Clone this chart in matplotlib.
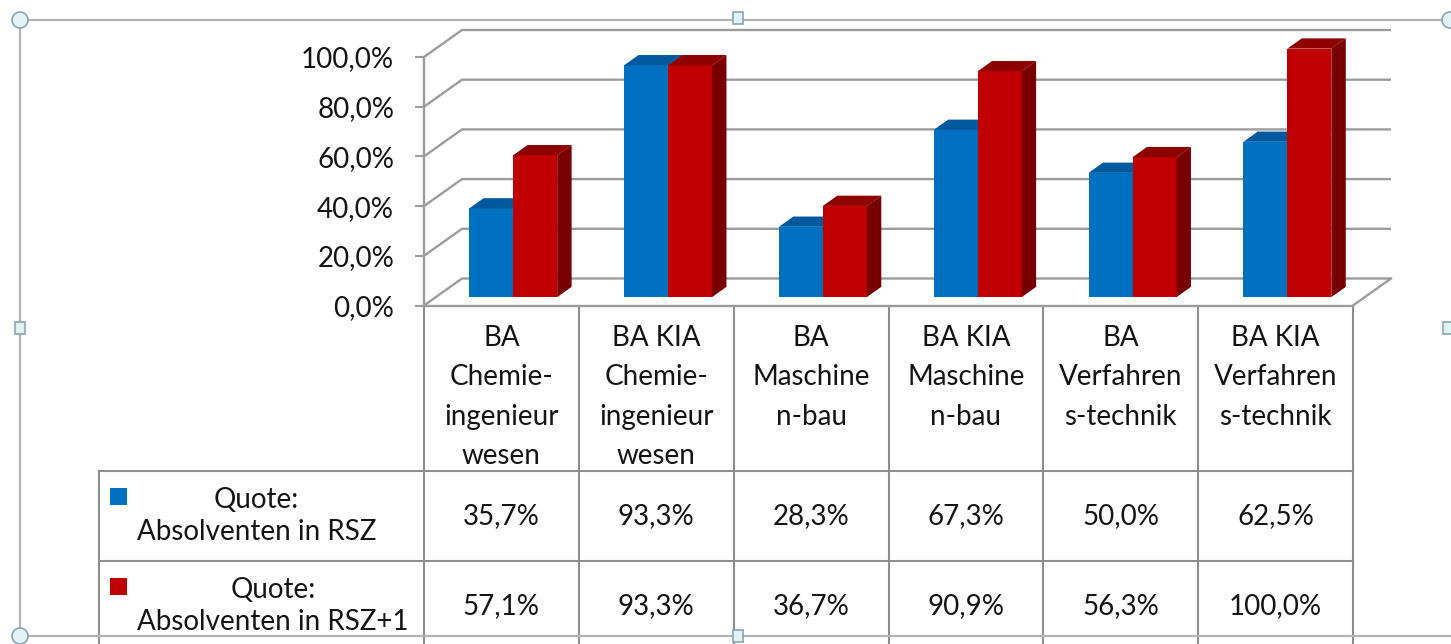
import matplotlib
matplotlib.use("Agg")
import matplotlib.pyplot as plt
from matplotlib.patches import Polygon, Rectangle, Circle
from matplotlib.ticker import FuncFormatter

# data
categories = [
    "BA\nChemie-\ningenieur\nwesen",
    "BA KIA\nChemie-\ningenieur\nwesen",
    "BA\nMaschine\nn-bau",
    "BA KIA\nMaschine\nn-bau",
    "BA\nVerfahren\ns-technik",
    "BA KIA\nVerfahren\ns-technik",
]
series_names = ["Quote:\nAbsolventen in RSZ", "Quote:\nAbsolventen in RSZ+1"]
quote_rsz = [35.7, 93.3, 28.3, 67.3, 50.0, 62.5]
quote_rsz1 = [57.1, 93.3, 36.7, 90.9, 56.3, 100.0]
y_ticks = [0, 20, 40, 60, 80, 100]

# styles
front_cols = ["#0070C0", "#C00000"]
top_cols = ["#00599C", "#8E0000"]
side_cols = ["#004C85", "#780000"]
grid_col = "#9c9c9c"
table_col = "#8e8e8e"
text_col = "#141414"
fs = 20

plt.rcParams['font.family'] = ['Lato', 'DejaVu Sans']

W, H = 1451, 644
fig = plt.figure(figsize=(W / 100, H / 100), dpi=100)
fig.patch.set_facecolor("white")

def fx(x):
    return x / W

def fy(y):
    return 1 - y / H

# layout overlay in pixel units (table, frame)
lay = fig.add_axes([0, 0, 1, 1])
lay.set_xlim(0, W)
lay.set_ylim(H, 0)
lay.axis("off")
lay.set_zorder(0)

# front plane of the 3d plot area
X0, X1, Y0, Y1 = 424, 1353, 305.5, 57
ax = fig.add_axes([fx(X0), fy(Y0), fx(X1) - fx(X0), fy(Y1) - fy(Y0)])
ax.set_zorder(1)
ax.patch.set_visible(False)
n = len(categories)
ax.set_xlim(0, n)
ax.set_ylim(0, 100)

# depth of the box (38 px right, 27 px up) in data units
dx = 38 / ((X1 - X0) / n)
dy = 27 / ((Y0 - Y1) / 100)

# back wall gridlines + side wall diagonals
for v in y_ticks:
    ax.plot([0, dx, n + dx], [v + 0, v + dy, v + dy], color=grid_col, lw=1.7,
            clip_on=False, zorder=1, solid_capstyle="butt")
ax.plot([n, n + dx], [0, dy], color=grid_col, lw=1.7, clip_on=False, zorder=1)

for s in ["top", "right"]:
    ax.spines[s].set_visible(False)
ax.spines["bottom"].set_color(grid_col)
ax.spines["bottom"].set_linewidth(1.7)
ax.spines["left"].set_color(grid_col)
ax.spines["left"].set_linewidth(1.7)
ax.spines["left"].set_bounds(0, 100)
ax.set_xticks([])
ax.set_yticks(y_ticks)
ax.yaxis.set_major_formatter(FuncFormatter(lambda v, p: f"{v:.1f}%".replace(".", ",")))
ax.tick_params(axis="y", direction="out", length=6.5, width=1.5, color=grid_col,
               labelcolor=text_col, labelsize=fs, pad=15)

# 3d bars
f0, f1 = 0.31, 0.69
bw = 0.284
for i in range(n):
    for j, vals in enumerate([quote_rsz, quote_rsz1]):
        v = vals[i]
        xl = i + 0.5 + f0 * dx + (j - 1) * bw
        xr = xl + bw
        b0, b1 = f0 * dy, f1 * dy
        ddx = (f1 - f0) * dx
        z = 3 + j * 0.5
        ax.bar(xl, v, width=bw, bottom=b0, align="edge", color=front_cols[j],
               lw=0, zorder=z, clip_on=False)
        ax.add_patch(Polygon([(xl, v + b0), (xr, v + b0), (xr + ddx, v + b1), (xl + ddx, v + b1)],
                             closed=True, fc=top_cols[j], lw=0, zorder=z, clip_on=False))
        ax.add_patch(Polygon([(xr, b0), (xr, v + b0), (xr + ddx, v + b1), (xr + ddx, b1)],
                             closed=True, fc=side_cols[j], lw=0, zorder=z, clip_on=False))

# data table
colw = (X1 - X0) / n
LEFT, HEAD_BOT, ROW1_BOT, ROW2_BOT = 99, 471, 561, 651
for k in range(n + 1):
    lay.plot([X0 + k * colw] * 2, [Y0, H + 5], color=table_col, lw=1.5)
lay.plot([LEFT, LEFT], [HEAD_BOT, H + 5], color=table_col, lw=1.5)
for yy in [HEAD_BOT, ROW1_BOT, ROW2_BOT]:
    lay.plot([LEFT, X1], [yy, yy], color=table_col, lw=1.5)

for i, cat in enumerate(categories):
    cx = X0 + (i + 0.5) * colw
    for k, line in enumerate(cat.split("\n")):
        lay.text(cx, 338 + k * 39.3, line, ha="center", va="center", fontsize=fs, color=text_col)

row_cy = [(HEAD_BOT + ROW1_BOT) / 2, (ROW1_BOT + ROW2_BOT) / 2]
for j, vals in enumerate([quote_rsz, quote_rsz1]):
    cy = row_cy[j]
    for i, v in enumerate(vals):
        cx = X0 + (i + 0.5) * colw
        lay.text(cx, cy, f"{v:.1f}%".replace(".", ","), ha="center", va="center",
                 fontsize=fs, color=text_col)
    lay.add_patch(Rectangle((110, cy - 28), 17, 17, fc=front_cols[j], lw=0))
    lay.text(137, cy, series_names[j], ha="left", va="center", multialignment="center",
             fontsize=fs, color=text_col, linespacing=1.3)

# chart frame with selection handles
fr = "#b4b4b4"
lay.plot([20, W], [20, 20], color=fr, lw=1.6)
lay.plot([20, 20], [20, 636], color=fr, lw=1.6)
lay.plot([20, W], [636, 636], color=fr, lw=1.6)
for (hx, hy) in [(20, 20), (1450, 20), (20, 636)]:
    lay.add_patch(Circle((hx, hy), 8, fc="#e2f3f8", ec="#8aa4b2", lw=1.2, zorder=5))
for (hx, hy) in [(738, 18), (20, 328), (1448, 328), (738, 636)]:
    lay.add_patch(Rectangle((hx - 5, hy - 6), 10, 12, fc="#e2f3f8", ec="#8aa4b2", lw=1.2, zorder=5))

fig.savefig("out.png", dpi=100)
